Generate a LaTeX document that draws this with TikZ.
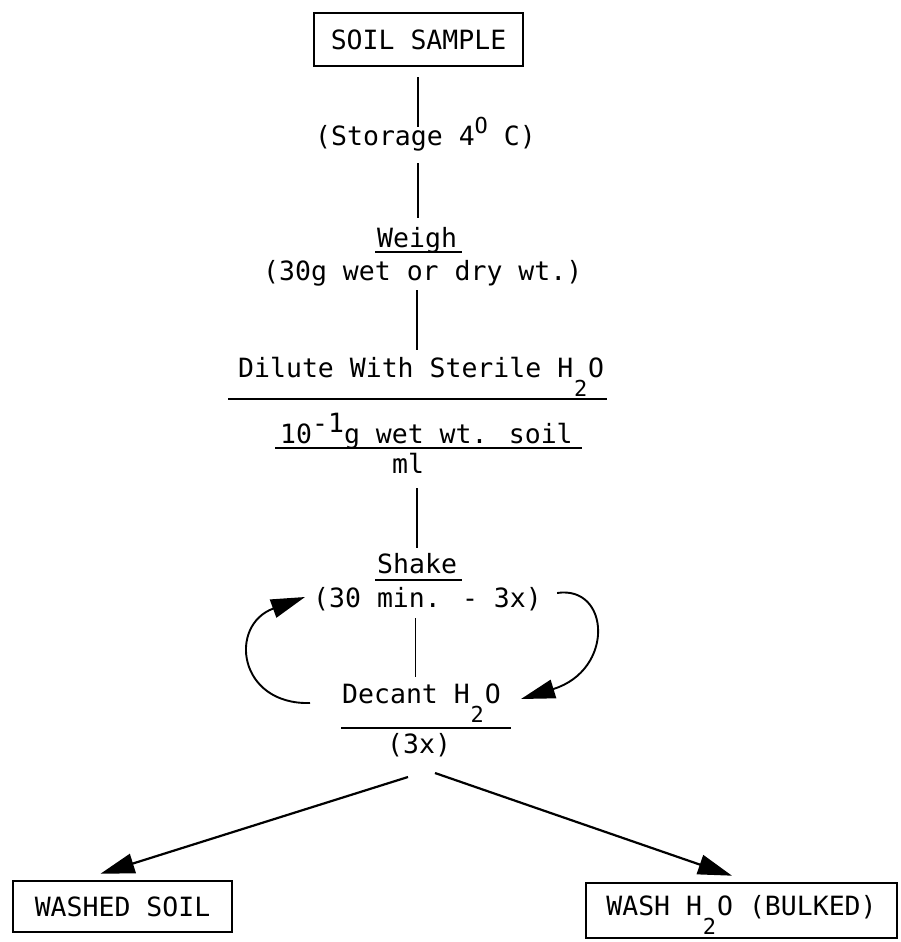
\documentclass[tikz,border=0pt]{standalone}
\usepackage{fontspec}
\newfontfamily\typewfont{DejaVu Sans Mono}
\usetikzlibrary{arrows.meta}

% lowered subscript two, superscript circle and raised exponent
\newcommand\lowtwo{\makebox[15pt][c]{\raisebox{-19pt}{\fontsize{22}{22}\selectfont 2}}}
\newcommand\degO{\raisebox{12pt}{\fontsize{22}{22}\selectfont O}}
\newcommand\raisedexp[1]{\raisebox{11pt}{#1}}

\begin{document}
\begin{tikzpicture}[x=1pt,y=-1pt,
  txt/.style={inner sep=0pt,anchor=base west,font=\typewfont\fontsize{26.5}{30}\selectfont},
  boxnode/.style={draw,line width=2.6pt,inner sep=0pt,text height=19pt,
    font=\typewfont\fontsize{26.5}{30}\selectfont},
  link/.style={line width=1.9pt},
  thinlink/.style={line width=1pt},
  rule/.style={line width=1.9pt},
  flow/.style={line width=2.2pt,-{Triangle[length=34pt,width=20pt]}},
  loop/.style={line width=1.9pt,-{Triangle[length=34pt,width=19pt]}}]
\useasboundingbox (0,0) rectangle (900,942);

% boxes
\node[boxnode,minimum width=209pt,minimum height=53pt,text depth=0pt] (soil) at (418.5,39.5) {SOIL SAMPLE};
\node[boxnode,minimum width=219pt,minimum height=51pt,text depth=0pt] (washed) at (122.5,906.5) {WASHED SOIL};
\node[boxnode,minimum width=311pt,minimum height=55pt,text depth=10pt] (bulk) at (741.5,910.5) {WASH H\lowtwo O (BULKED)};

% step labels
\node[txt] (storage) at (315,145) {(Storage 4\degO\ C)};
\node[txt] (weigh) at (377,247) {Weigh};
\node[txt] (wt) at (263,280) {(30g wet or dry wt.)};
\node[txt] (dilute) at (238,377) {Dilute With Sterile H\lowtwo O};
\node[txt] (tenth) at (280,443) {10\raisedexp{-1}g wet wt. soil};
\node[txt] (ml) at (392,473) {ml};
\node[txt] (shake) at (377,573) {Shake};
\node[txt] (mins) at (313,607) {(30 min. - 3x)};
\node[txt] (decant) at (342,703) {Decant H\lowtwo O};
\node[txt] (three) at (387,753) {(3x)};

% underlines and fraction bars
\draw[rule] ([xshift=-2pt,yshift=-5pt]weigh.base west) -- ([xshift=5pt,yshift=-5pt]weigh.base east);
\draw[rule] ([xshift=-10pt,yshift=-22pt]dilute.base west) -- ([xshift=3pt,yshift=-22pt]dilute.base east);
\draw[rule] ([xshift=-5pt,yshift=-5pt]tenth.base west) -- ([xshift=9pt,yshift=-5pt]tenth.base east);
\draw[rule] ([xshift=-2pt,yshift=-7pt]shake.base west) -- ([xshift=5pt,yshift=-7pt]shake.base east);
\draw[rule] ([xshift=-1pt,yshift=-25pt]decant.base west) -- ([xshift=10pt,yshift=-25pt]decant.base east);

% ends of the vertical links
\coordinate (l1a) at (418,77);  \coordinate (l1b) at (418,127);
\coordinate (l2a) at (418,163); \coordinate (l2b) at (418,218);
\coordinate (l3a) at (417,290); \coordinate (l3b) at (417,350);
\coordinate (l4a) at (417,488); \coordinate (l4b) at (417,548);
\coordinate (l5a) at (415,618); \coordinate (l5b) at (415,677);
\draw[link] (l1a) -- (l1b);
\draw[link] (l2a) -- (l2b);
\draw[link] (l3a) -- (l3b);
\draw[link] (l4a) -- (l4b);
\draw[thinlink] (l5a) -- (l5b);

% shake / decant loop
\draw[loop] ([xshift=-32pt]decant.base west)
  .. controls (238,705) and (228,625) .. ([xshift=-8pt,yshift=10pt]mins.base west);
\draw[loop] ([xshift=15pt,yshift=14pt]mins.base east)
  .. controls (610,585) and (615,670) .. ([xshift=20pt,yshift=4pt]decant.base east);

% split into the two products
\coordinate (forkL) at (408,777);
\coordinate (forkR) at (435,773);
\draw[flow] (forkL) -- ([xshift=-22pt,yshift=6pt]washed.north);
\draw[flow] (forkR) -- ([xshift=-9.5pt,yshift=6pt]bulk.north);
\end{tikzpicture}
\end{document}
